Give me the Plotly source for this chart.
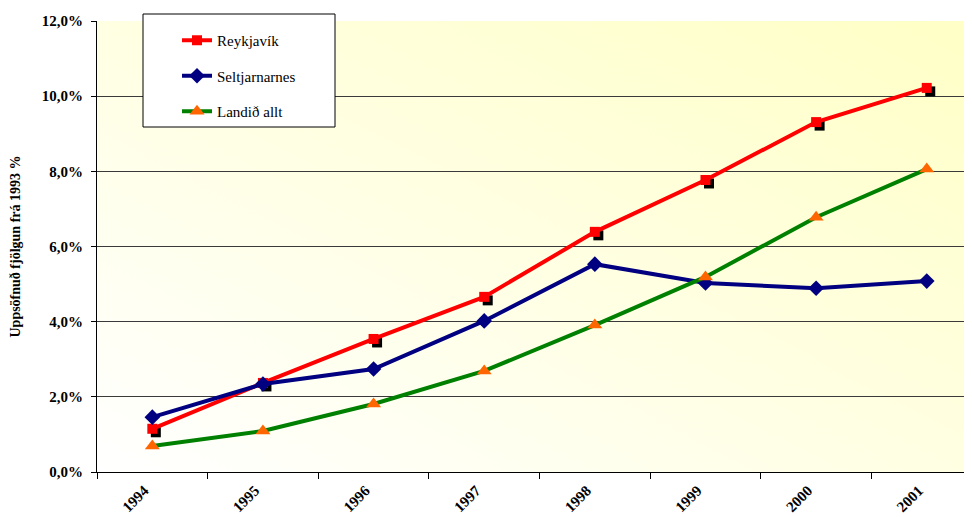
import base64
import plotly.graph_objects as go

# ---- data ----
years = ["1994", "1995", "1996", "1997", "1998", "1999", "2000", "2001"]
reykjavik = [1.15, 2.37, 3.54, 4.66, 6.39, 7.77, 9.31, 10.22]
seltjarnarnes = [1.46, 2.34, 2.74, 4.02, 5.53, 5.03, 4.89, 5.08]
landid_allt = [0.69, 1.09, 1.81, 2.69, 3.91, 5.19, 6.78, 8.06]
series_names = ["Reykjavík", "Seltjarnarnes", "Landið allt"]
y_tick_values = [0, 2, 4, 6, 8, 10, 12]
y_tick_labels = ["0,0%", "2,0%", "4,0%", "6,0%", "8,0%", "10,0%", "12,0%"]
y_title = "Uppsöfnuð fjölgun frá 1993 %"

# ---- layout geometry (page body has an 8px margin) ----
PAGE_OFF = 8
W, H = 972 - PAGE_OFF, 517 - PAGE_OFF
L, R, T, B = 97 - PAGE_OFF, 1, 21 - PAGE_OFF, 45
plot_w = W - L - R
plot_h = H - T - B
x_range = [-0.5, 7.4]
y_range = [0, 12]
cat_px = plot_w / (x_range[1] - x_range[0])
pct_px = plot_h / (y_range[1] - y_range[0])
shadow_dx, shadow_dy = 3.5, 3.5

SERIF = "Liberation Serif"

fig = go.Figure()

# shadow of the Reykjavik markers (drawn on hidden, slightly shifted axes)
fig.add_trace(go.Scatter(
    x=years, y=reykjavik, mode="markers", xaxis="x", yaxis="y",
    marker=dict(symbol="square", size=10, color="black"),
    showlegend=False, hoverinfo="skip"))

fig.add_trace(go.Scatter(
    x=years, y=reykjavik, name=series_names[0], mode="lines+markers",
    xaxis="x2", yaxis="y2", legendgroup="a",
    line=dict(color="#FF0000", width=4),
    marker=dict(symbol="square", size=10, color="#FF0000")))
fig.add_trace(go.Scatter(
    x=years, y=seltjarnarnes, name=series_names[1], mode="lines+markers",
    xaxis="x2", yaxis="y2", legendgroup="b",
    line=dict(color="#000080", width=4),
    marker=dict(symbol="diamond", size=12, color="#000080")))
fig.add_trace(go.Scatter(
    x=years, y=landid_allt, name=series_names[2], mode="lines+markers",
    xaxis="x2", yaxis="y2", legendgroup="c",
    line=dict(color="#008000", width=4),
    marker=dict(symbol="triangle-up", size=13, color="#FF6600")))

# background gradient (white lower-left to pale yellow upper-right)
svg = ("<svg xmlns='http://www.w3.org/2000/svg' width='874' height='451' "
       "viewBox='0 0 874 451' preserveAspectRatio='none'>"
       "<defs><linearGradient id='g' x1='0' y1='1' x2='1' y2='0'>"
       "<stop offset='0' stop-color='#FFFFFF'/>"
       "<stop offset='1' stop-color='#FFFFC6'/>"
       "</linearGradient></defs>"
       "<rect x='0' y='0' width='874' height='451' fill='url(#g)'/></svg>")
svg_uri = "data:image/svg+xml;base64," + base64.b64encode(svg.encode()).decode()

# legend box (screen pixels -> paper coordinates)
lx0, lx1, ly0, ly1 = 143, 335, 14, 127
def px_x(p):
    return (p - PAGE_OFF - L) / plot_w
def px_y(p):
    return (H + PAGE_OFF - B - p) / plot_h

fig.update_layout(
    width=W, height=H,
    margin=dict(l=L, r=R, t=T, b=B, autoexpand=False),
    paper_bgcolor="white",
    plot_bgcolor="rgba(0,0,0,0)",
    font=dict(family=SERIF, color="black", size=15),
    images=[dict(source=svg_uri, xref="paper", yref="paper", x=0, y=1,
                 sizex=1, sizey=1, sizing="stretch", layer="below",
                 xanchor="left", yanchor="top")],
    shapes=[dict(type="rect", xref="paper", yref="paper",
                 x0=px_x(lx0), x1=px_x(lx1), y0=px_y(ly1), y1=px_y(ly0),
                 fillcolor="white", line=dict(color="black", width=1),
                 layer="above")],
    showlegend=True,
    legend=dict(x=px_x(177), y=px_y(24), xanchor="left", yanchor="top",
                bgcolor="rgba(0,0,0,0)", borderwidth=0,
                font=dict(family=SERIF, size=15, color="black"),
                tracegroupgap=13, itemwidth=30),
    xaxis=dict(type="category", categoryorder="array", categoryarray=years,
               range=[x_range[0] - shadow_dx / cat_px, x_range[1] - shadow_dx / cat_px],
               visible=False, fixedrange=True),
    yaxis=dict(range=[y_range[0] + shadow_dy / pct_px, y_range[1] + shadow_dy / pct_px],
               visible=False, fixedrange=True),
    xaxis2=dict(type="category", categoryorder="array", categoryarray=years,
                overlaying="x", anchor="y2", side="bottom", range=x_range,
                tickson="boundaries", ticks="outside", ticklen=6,
                tickcolor="black", showline=True, linecolor="black", linewidth=1,
                showgrid=False, tickangle=-45, ticklabelstandoff=3,
                ticklabelshift=-8,
                tickfont=dict(family=SERIF, size=15, color="black", weight="bold")),
    yaxis2=dict(overlaying="y", anchor="x2", side="left", range=y_range,
                tickvals=y_tick_values, ticktext=y_tick_labels,
                ticks="outside", ticklen=5, tickcolor="black",
                showline=True, linecolor="black", linewidth=1,
                showgrid=True, gridcolor="#3a3a3a", gridwidth=1,
                zeroline=False, ticklabelstandoff=5,
                tickfont=dict(family=SERIF, size=15, color="black", weight="bold"),
                title=dict(text=y_title, standoff=22,
                           font=dict(family=SERIF, size=14, color="black", weight="bold"))),
)

fig.write_html("out.html")
